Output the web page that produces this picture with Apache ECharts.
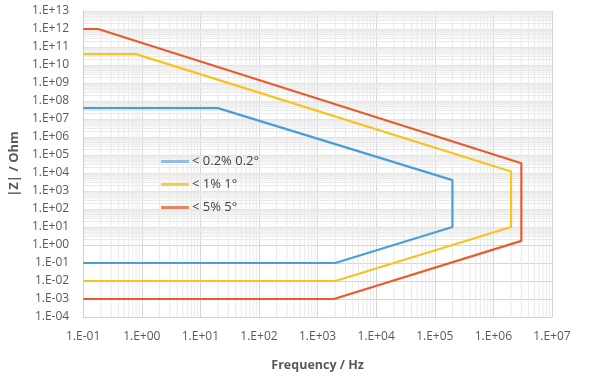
<!DOCTYPE html>
<html>
<head>
<meta charset="utf-8">
<script src="https://cdn.jsdelivr.net/npm/echarts@6/dist/echarts.min.js"></script>
<style>html,body{margin:0;padding:0;background:#fff}#c{width:598px;height:383px}</style>
</head>
<body>
<div id="c"></div>
<script>
// ---- data ----
var seriesNames = ['< 0.2% 0.2°', '< 1% 1°', '< 5% 5°'];
var blueData = [[0.1, 4e7], [20, 4e7], [2e5, 4e3], [2e5, 10], [2e3, 0.1], [0.1, 0.1]];
var yellowData = [[0.1, 4e10], [0.8, 4e10], [2e6, 1.2e4], [2e6, 10], [2e3, 0.01], [0.1, 0.01]];
var redData = [[0.1, 1e12], [0.18, 1e12], [3e6, 3.5e4], [3e6, 1.7], [1.9e3, 0.001], [0.1, 0.001]];
var xTickLabels = ['1.E-01','1.E+00','1.E+01','1.E+02','1.E+03','1.E+04','1.E+05','1.E+06','1.E+07'];
var yTickLabels = ['1.E-04','1.E-03','1.E-02','1.E-01','1.E+00','1.E+01','1.E+02','1.E+03','1.E+04','1.E+05','1.E+06','1.E+07','1.E+08','1.E+09','1.E+10','1.E+11','1.E+12','1.E+13'];
var minorSteps = [2, 3, 4, 5, 6, 7, 8, 9];
var xDecades = [0.1, 1, 10, 100, 1e3, 1e4, 1e5, 1e6];
var yMinorDecades = [1, 10, 100, 1e3, 1e4, 1e5, 1e6, 1e7, 1e8, 1e9, 1e10, 1e11, 1e12];

var X_MIN = 0.1, X_MAX = 1e7, Y_MIN = 1e-4, Y_MAX = 1e13;

var minorX = [], minorY = [];
xDecades.forEach(function (d) { minorSteps.forEach(function (s) { minorX.push([d * s, 1]); }); });
yMinorDecades.forEach(function (d) { minorSteps.forEach(function (s) { minorY.push([1, d * s]); }); });

function fmtX(v) { var e = Math.round(Math.log10(v)); return xTickLabels[e + 1] || ''; }
function fmtY(v) { var e = Math.round(Math.log10(v)); return yTickLabels[e + 4] || ''; }

var chart = echarts.init(document.getElementById('c'), null, { renderer: 'canvas' });
var labelStyle = { color: '#595959', fontFamily: 'Open Sans', fontSize: 12 };
var minorColor = '#e9e9e9';

chart.setOption({
  animation: false,
  backgroundColor: '#ffffff',
  grid: { left: 80, right: 46, top: 11, bottom: 66, containLabel: false },
  legend: {
    data: seriesNames,
    orient: 'vertical',
    left: 156,
    top: 150,
    itemGap: 10,
    itemWidth: 28,
    itemHeight: 3,
    icon: 'rect',
    textStyle: { color: '#404040', fontFamily: 'Open Sans', fontSize: 13, padding: [0, 0, 0, -2] }
  },
  xAxis: {
    type: 'log', logBase: 10, min: X_MIN, max: X_MAX, interval: 1, splitNumber: 8,
    name: 'Frequency / Hz', nameLocation: 'middle', nameGap: 42,
    nameTextStyle: { color: '#595959', fontFamily: 'Open Sans', fontSize: 12.5, fontWeight: 'bold' },
    axisLine: { lineStyle: { color: '#d0d0d0', width: 1 } },
    axisTick: { show: false },
    axisLabel: Object.assign({ formatter: fmtX, margin: 14 }, labelStyle),
    splitLine: { show: true, lineStyle: { color: '#d6d6d6', width: 1 } }
  },
  yAxis: {
    type: 'log', logBase: 10, min: Y_MIN, max: Y_MAX, interval: 1, splitNumber: 17,
    name: '|Z| / Ohm', nameLocation: 'middle', nameGap: 62, nameRotate: 90,
    nameTextStyle: { color: '#595959', fontFamily: 'Open Sans', fontSize: 13, fontWeight: 'bold' },
    axisLine: { show: true, lineStyle: { color: '#d0d0d0', width: 1 } },
    axisTick: { show: false },
    axisLabel: Object.assign({ formatter: fmtY, margin: 14 }, labelStyle),
    splitLine: { show: true, lineStyle: { color: '#d6d6d6', width: 1 } }
  },
  series: [
    {
      type: 'custom', name: 'minorX', silent: true, z: 0, data: minorX,
      renderItem: function (params, api) {
        var x = api.value(0);
        var p1 = api.coord([x, Y_MAX]), p2 = api.coord([x, Y_MIN]);
        return { type: 'line', shape: { x1: p1[0], y1: p1[1], x2: p2[0], y2: p2[1] }, style: { stroke: minorColor, lineWidth: 1 } };
      }
    },
    {
      type: 'custom', name: 'minorY', silent: true, z: 0, data: minorY,
      renderItem: function (params, api) {
        var y = api.value(1);
        var p1 = api.coord([X_MIN, y]), p2 = api.coord([X_MAX, y]);
        return { type: 'line', shape: { x1: p1[0], y1: p1[1], x2: p2[0], y2: p2[1] }, style: { stroke: minorColor, lineWidth: 1 } };
      }
    },
    { type: 'line', name: seriesNames[0], data: blueData, symbol: 'none', z: 3,
      lineStyle: { color: '#4a9ed8', width: 2.2 }, itemStyle: { color: '#8fbde3' } },
    { type: 'line', name: seriesNames[1], data: yellowData, symbol: 'none', z: 3,
      lineStyle: { color: '#f6c41c', width: 2.2 }, itemStyle: { color: '#f7cf3c' } },
    { type: 'line', name: seriesNames[2], data: redData, symbol: 'none', z: 3,
      lineStyle: { color: '#e95a2c', width: 2.2 }, itemStyle: { color: '#e98461' } }
  ]
});
</script>
</body>
</html>
